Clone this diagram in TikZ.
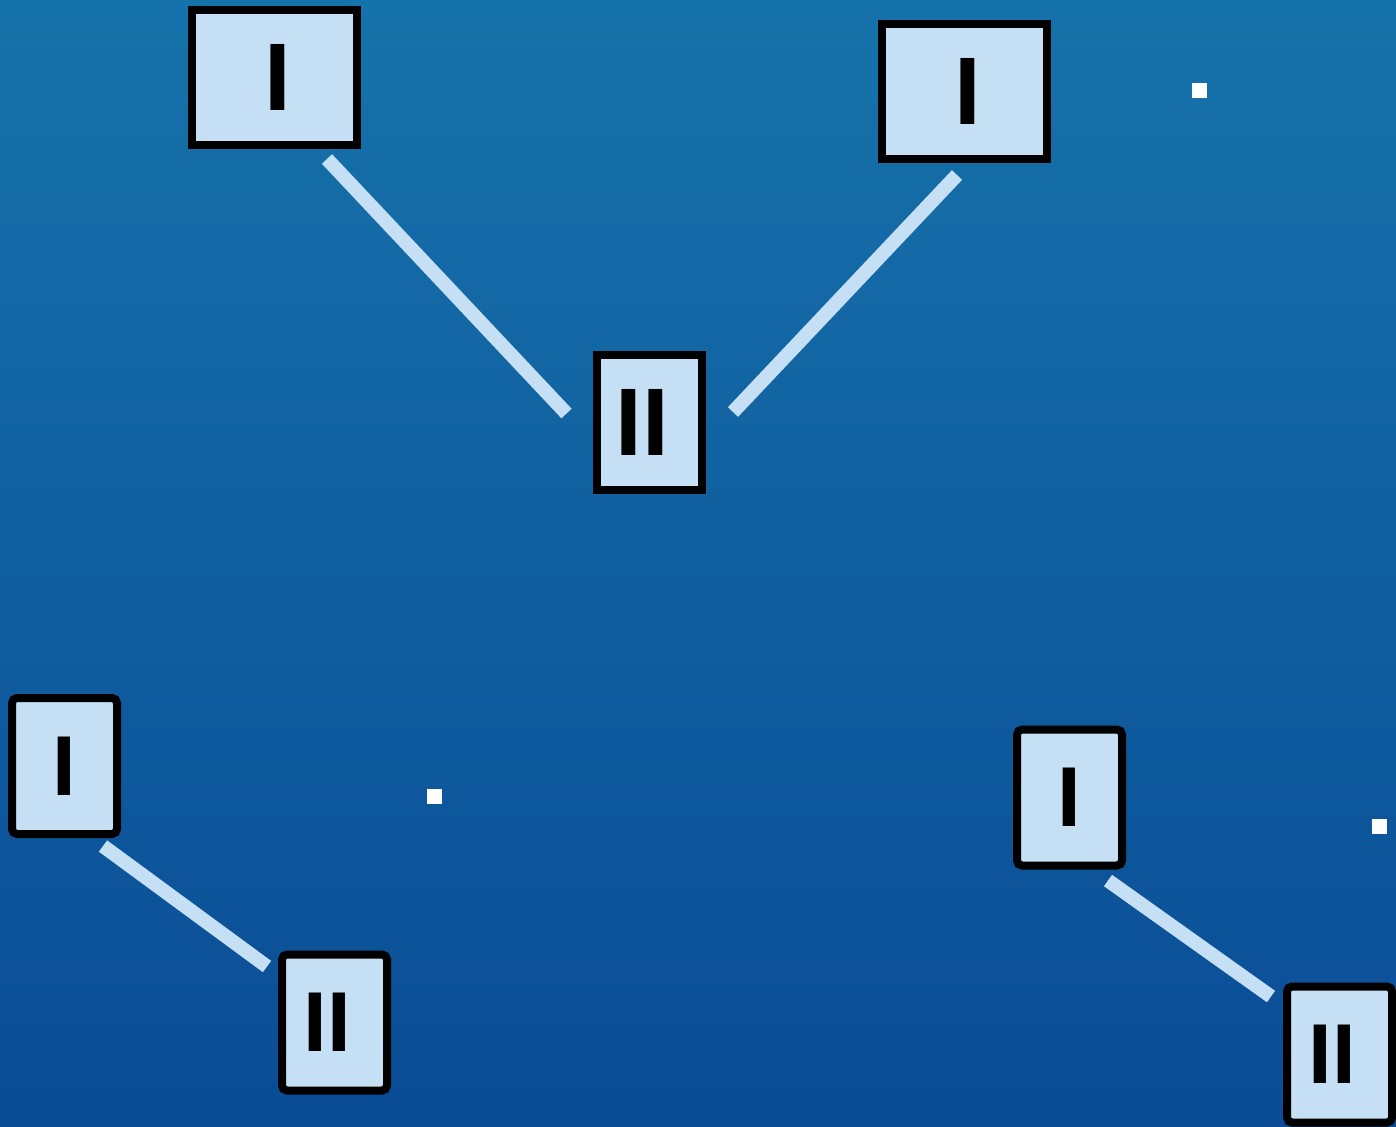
\documentclass[tikz,border=0pt]{standalone}
\usepackage{fontspec}
\newfontfamily\boxfont{Liberation Sans}
\definecolor{bgtop}{RGB}{22,114,170}
\definecolor{bgbot}{RGB}{10,76,150}
\definecolor{boxblue}{RGB}{197,224,244}
\begin{document}
\begin{tikzpicture}[x=.5pt,y=-.5pt,
 box/.style={draw=black,line width=4pt,fill=boxblue,inner sep=0pt,minimum height=67.5pt,
  font=\boxfont\bfseries\fontsize{48}{48}\selectfont},
 wide/.style={minimum width=82.5pt},
 narrow/.style={minimum width=52.5pt},
 soft/.style={rounded corners=2.5pt,minimum height=68pt,font=\boxfont\bfseries\fontsize{42.5}{42.5}\selectfont},
 link/.style={draw=boxblue,line width=7pt}]
\fill[top color=bgtop,bottom color=bgbot] (0,0) rectangle (1396,1126);
\useasboundingbox (0,0) rectangle (1396,1126);
% upper group
\node[box,wide] (I1) at (274.5,77.5) {\hspace*{3.5pt}I};
\node[box,wide] (I2) at (964.5,91.5) {\hspace*{3.5pt}I};
\node[box,narrow] (II1) at (649.5,422.5) {II\hspace*{7pt}};
% lower pairs
\node[box,narrow,soft] (I3) at (64.5,766) {I};
\node[box,narrow,soft] (II2) at (334.5,1022.5) {II\hspace*{7pt}};
\node[box,narrow,soft] (I4) at (1069.5,797.5) {I};
\node[box,narrow,soft] (II3) at (1339.5,1054.5) {II\hspace*{7pt}};
\draw[link] ([shift={(52.5,10)}]I1.south) -- ([shift={(-26.5,-9)}]II1.west);
\draw[link] ([shift={(-7.5,12)}]I2.south) -- ([shift={(27,-10.5)}]II1.east);
\draw[link] ([shift={(38.5,8)}]I3.south) -- ([shift={(-11,16)}]II2.north west);
\draw[link] ([shift={(38.5,11)}]I4.south) -- ([shift={(-12,14)}]II3.north west);
\foreach \x/\y in {1199.5/90.5,434.5/796.5,1379.5/826.5}{
 \fill[white] (\x-7.5,\y-7.5) rectangle (\x+7.5,\y+7.5);
}
\end{tikzpicture}
\end{document}
